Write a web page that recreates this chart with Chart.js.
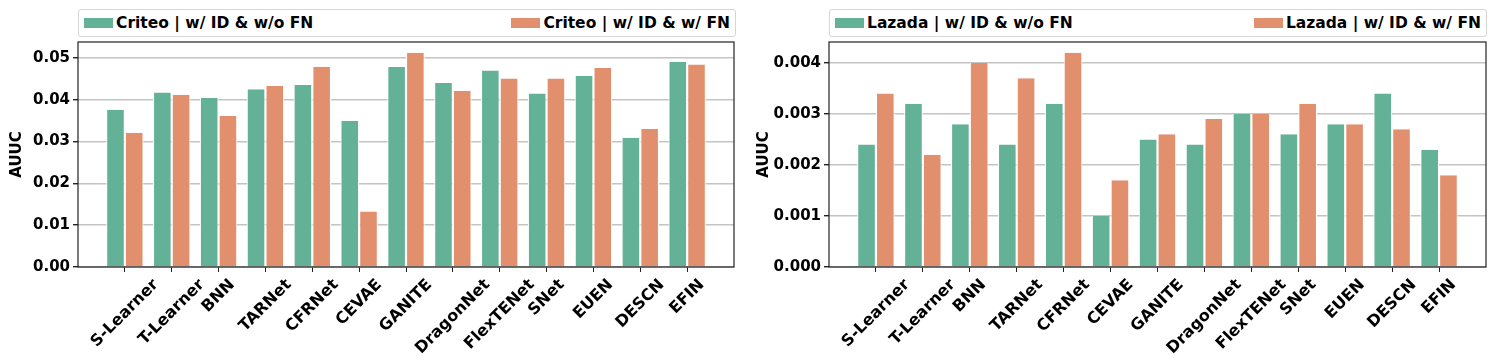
<!DOCTYPE html>
<html>
<head>
<meta charset="utf-8">
<script src="https://cdn.jsdelivr.net/npm/chart.js@4/dist/chart.umd.min.js"></script>
<style>
  body { margin: 0; background: #fff; }
  #wrap { position: relative; width: 1495px; height: 364px; }
  canvas { position: absolute; top: 0; }
  .legend {
    position: absolute; top: 9px; height: 28px; box-sizing: border-box;
    border: 1px solid #d6d6d6; border-radius: 3px; background: #fff;
    display: flex; justify-content: space-between; align-items: center;
    padding: 0 5px; font: bold 15.5px 'DejaVu Sans', sans-serif; color: #000;
  }
  .legend span.item { display: flex; align-items: center; }
  .legend i { display: inline-block; width: 29px; height: 10px; margin-right: 3px; }
</style>
</head>
<body>
<div id="wrap">
  <canvas id="criteoChart" width="747" height="364" style="left:0"></canvas>
  <canvas id="lazadaChart" width="748" height="364" style="left:747px"></canvas>
  <div class="legend" style="left:78px; width:658px;">
    <span class="item"><i style="background:#63b197"></i>Criteo | w/ ID &amp; w/o FN</span>
    <span class="item"><i style="background:#e18f6d"></i>Criteo | w/ ID &amp; w/ FN</span>
  </div>
  <div class="legend" style="left:829px; width:658px;">
    <span class="item"><i style="background:#63b197"></i>Lazada | w/ ID &amp; w/o FN</span>
    <span class="item"><i style="background:#e18f6d"></i>Lazada | w/ ID &amp; w/ FN</span>
  </div>
</div>
<script>
// categories
const models = ['S-Learner', 'T-Learner', 'BNN', 'TARNet', 'CFRNet', 'CEVAE', 'GANITE',
                'DragonNet', 'FlexTENet', 'SNet', 'EUEN', 'DESCN', 'EFIN'];

// Criteo AUUC
const criteoNoFN = [0.0376, 0.0417, 0.0404, 0.0425, 0.0435, 0.0349, 0.0478,
                    0.0440, 0.0470, 0.0415, 0.0457, 0.0309, 0.0491];
const criteoFN   = [0.0321, 0.0412, 0.0361, 0.0433, 0.0479, 0.0133, 0.0512,
                    0.0421, 0.0451, 0.0451, 0.0476, 0.0330, 0.0484];

// Lazada AUUC
const lazadaNoFN = [0.0024, 0.0032, 0.0028, 0.0024, 0.0032, 0.0010, 0.0025,
                    0.0024, 0.0030, 0.0026, 0.0028, 0.0034, 0.0023];
const lazadaFN   = [0.0034, 0.0022, 0.0040, 0.0037, 0.0042, 0.0017, 0.0026,
                    0.0029, 0.0030, 0.0032, 0.0028, 0.0027, 0.0018];

Chart.defaults.font.family = "'DejaVu Sans', sans-serif";
Chart.defaults.color = '#000';

const GREEN = '#63b197';
const ORANGE = '#e18f6d';
const TICK_FONT = "bold 16px 'DejaVu Sans', sans-serif";

// pad one empty slot on each side so the x range runs from -1 to 13
const pad = arr => [null, ...arr, null];
const padLabels = ['', ...models, ''];

// full box around the plot area (matplotlib spines)
const frame = {
    id: 'frame',
    afterDraw(chart) {
        const a = chart.chartArea, c = chart.ctx;
        c.save();
        c.strokeStyle = '#222';
        c.lineWidth = 1.2;
        c.strokeRect(a.left, a.top, a.right - a.left, a.bottom - a.top);
        c.restore();
    }
};

// 45 degree labels centred on their tick, like matplotlib rotation=45
const rotLabels = {
    id: 'rotLabels',
    afterDraw(chart) {
        const xs = chart.scales.x, c = chart.ctx;
        const top = chart.chartArea.bottom + 11;
        c.save();
        c.font = TICK_FONT;
        c.fillStyle = '#000';
        c.textAlign = 'center';
        c.textBaseline = 'middle';
        padLabels.forEach((lab, i) => {
            if (!lab) return;
            const w = c.measureText(lab).width;
            const cx = xs.getPixelForTick(i);
            const cy = top + (w + 12) * 0.3536;
            c.save();
            c.translate(cx, cy);
            c.rotate(-Math.PI / 4);
            c.fillText(lab, 0, 0);
            c.restore();
        });
        c.restore();
    }
};

function makeChart(id, noFN, withFN, yMax, step, digits, yWidth, padRight) {
    const bar = { backgroundColor: GREEN, borderColor: '#fff',
                  borderWidth: { top: 0, left: 1.1, right: 1.1, bottom: 0 },
                  categoryPercentage: 0.8, barPercentage: 1.0 };
    new Chart(document.getElementById(id), {
        type: 'bar',
        data: {
            labels: padLabels,
            datasets: [
                { ...bar, data: pad(noFN) },
                { ...bar, data: pad(withFN), backgroundColor: ORANGE }
            ]
        },
        options: {
            responsive: false,
            animation: false,
            layout: { padding: { top: 42, right: padRight, left: 0, bottom: 0 } },
            plugins: { legend: { display: false }, tooltip: { enabled: false } },
            scales: {
                x: {
                    offset: false,
                    border: { display: false },
                    grid: {
                        display: true, offset: false, drawOnChartArea: false, drawTicks: true, tickLength: 5,
                        tickColor: ctx => (ctx.index === 0 || ctx.index === padLabels.length - 1) ? 'rgba(0,0,0,0)' : '#222'
                    },
                    ticks: { autoSkip: false, display: false },
                    afterFit: s => { s.height = 97; }
                },
                y: {
                    min: 0, max: yMax,
                    border: { display: false },
                    grid: { color: '#c4c4c4', lineWidth: 1.4, tickColor: '#222', tickLength: 5 },
                    ticks: { stepSize: step, includeBounds: false, padding: 3,
                             font: { size: 15, weight: 'bold' },
                             callback: v => Number(v).toFixed(digits) },
                    title: { display: true, text: 'AUUC', font: { size: 15, weight: 'bold' },
                             padding: { top: 8, bottom: 2 } },
                    afterFit: s => { s.width = yWidth; }
                }
            }
        },
        plugins: [frame, rotLabels]
    });
}

makeChart('criteoChart', criteoNoFN, criteoFN, 0.0538, 0.01, 2, 78, 13);
makeChart('lazadaChart', lazadaNoFN, lazadaFN, 0.00441, 0.001, 3, 82, 9);
</script>
</body>
</html>
